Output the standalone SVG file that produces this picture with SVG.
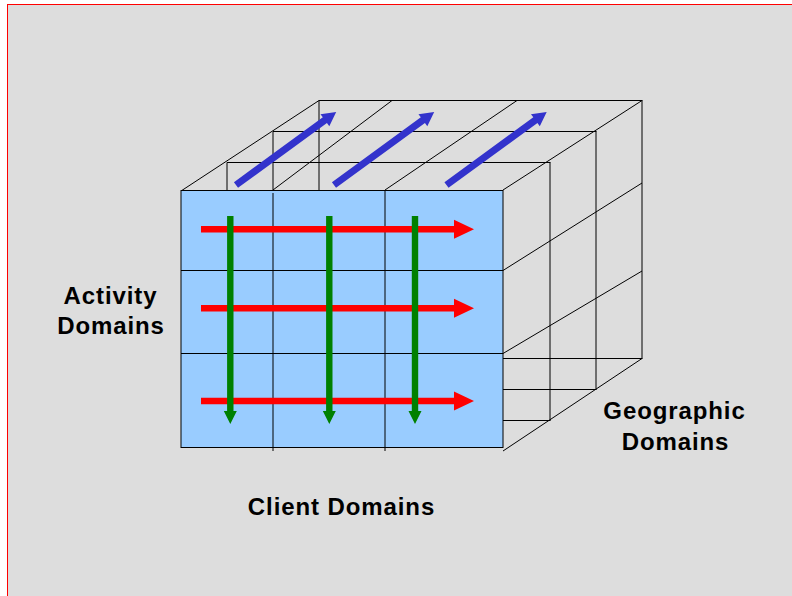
<svg xmlns="http://www.w3.org/2000/svg" xmlns:xlink="http://www.w3.org/1999/xlink" width="792" height="596" viewBox="0 0 792 596">
  <style>
    .wire { fill: none; stroke: #000; stroke-width: 1; }
    .face { fill: #99CCFF; }
    .label { font-family: "Liberation Sans", Arial, sans-serif; font-weight: bold; font-size: 24px; fill: #000; text-anchor: middle; letter-spacing: 0.9px; }
    .red { fill: #FF0000; }
    .green { fill: #008000; }
    .blue { fill: #3333CC; }
  </style>
  <defs>
    <!-- horizontal arrow, origin at the tail centre -->
    <path id="arrowRight" d="M0,-3.2 H253 V-9.5 L273,0 L253,9.5 V3.2 H0 Z"/>
    <!-- downward arrow, origin at the tail centre -->
    <path id="arrowDown" d="M-3.2,0 V195 H-6.5 L0,208 L6.5,195 H3.2 V0 Z"/>
    <!-- depth arrow, drawn along x and rotated into place -->
    <path id="arrowDepth" d="M0,-3.5 H110 V-7.5 L124,0 L110,7.5 V3.5 H0 Z"/>
  </defs>

  <!-- slide background -->
  <rect x="0" y="0" width="792" height="596" fill="#FFFFFF"/>
  <rect x="7.5" y="4.5" width="800" height="600" fill="#DDDDDD" stroke="#FF0000" stroke-width="1"/>

  <!-- wireframe of the cube behind the front face -->
  <g id="cube-wireframe" class="wire">
    <!-- depth layers -->
    <path d="M319,100.5 H642.5 M319,100.5 V358.5 H642.5 M642,100.5 V358.5"/>
    <path d="M273,131.5 H596.5 M273,131.5 V389.5 H596.5 M596,131.5 V389.5"/>
    <path d="M227,162.5 H550.5 M227,162.5 V420.5 H550.5 M550,162.5 V420.5"/>
    <!-- receding edges -->
    <line x1="181" y1="191" x2="319" y2="100.5"/>
    <line x1="273" y1="190" x2="392" y2="100.5"/>
    <line x1="385" y1="190" x2="517" y2="100.5"/>
    <line x1="503" y1="190" x2="642" y2="100.5"/>
    <line x1="503" y1="270.5" x2="642" y2="183"/>
    <line x1="503" y1="353.5" x2="642" y2="271"/>
    <line x1="503" y1="451" x2="642" y2="358.5"/>
  </g>

  <!-- front face with its 3 x 3 grid -->
  <g id="front-face">
    <rect class="face" x="181" y="190" width="322" height="257"/>
    <g class="wire">
      <line x1="181" y1="190.5" x2="503" y2="190.5"/>
      <line x1="181" y1="447.5" x2="503" y2="447.5"/>
      <line x1="181" y1="190" x2="181" y2="448"/>
      <line x1="503" y1="190" x2="503" y2="448"/>
      <line x1="181" y1="270.5" x2="503" y2="270.5"/>
      <line x1="181" y1="353.5" x2="503" y2="353.5"/>
      <line x1="273" y1="193" x2="273" y2="451"/>
      <line x1="385" y1="190" x2="385" y2="451"/>
    </g>
  </g>

  <!-- direction arrows -->
  <g id="connectors">
    <g id="activity-arrows" class="red">
      <use xlink:href="#arrowRight" x="201" y="229.3"/>
      <use xlink:href="#arrowRight" x="201" y="308.3"/>
      <use xlink:href="#arrowRight" x="201" y="401"/>
    </g>
    <g id="client-arrows" class="green">
      <use xlink:href="#arrowDown" x="230.3" y="216"/>
      <use xlink:href="#arrowDown" x="329.3" y="216"/>
      <use xlink:href="#arrowDown" x="415" y="216"/>
    </g>
    <g id="geographic-arrows" class="blue">
      <use xlink:href="#arrowDepth" transform="translate(236,185) rotate(-36.1)"/>
      <use xlink:href="#arrowDepth" transform="translate(334,185) rotate(-36.1)"/>
      <use xlink:href="#arrowDepth" transform="translate(446.5,185) rotate(-36.1)"/>
    </g>
  </g>

  <!-- axis labels -->
  <g id="label-activity">
    <text class="label" x="110.5" y="304">Activity</text>
    <text class="label" x="111" y="333.5">Domains</text>
  </g>
  <g id="label-geographic">
    <text class="label" x="674.5" y="418.5">Geographic</text>
    <text class="label" x="675.5" y="449.5">Domains</text>
  </g>
  <g id="label-client">
    <text class="label" x="341.5" y="515">Client Domains</text>
  </g>
</svg>
